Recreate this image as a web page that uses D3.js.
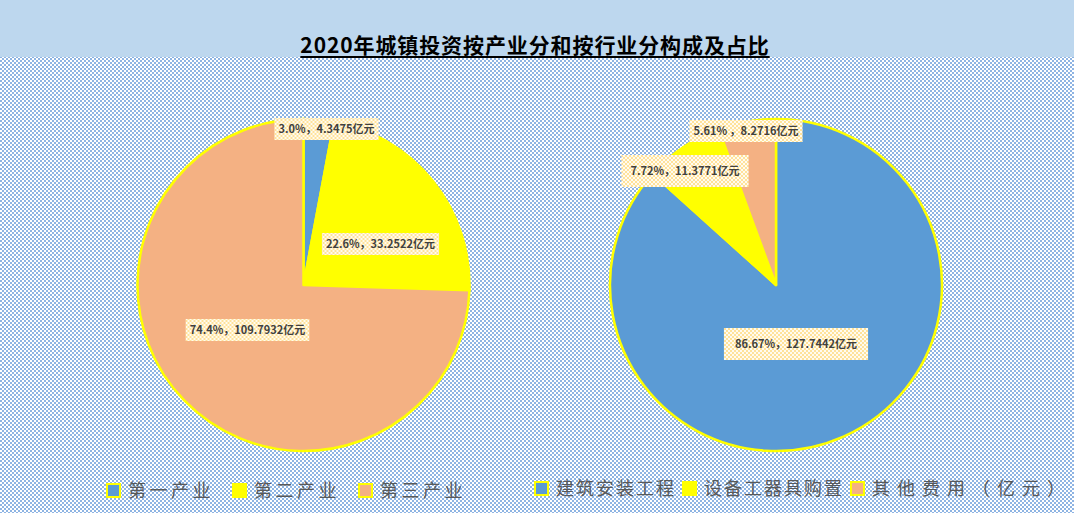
<!DOCTYPE html>
<html>
<head>
<meta charset="utf-8">
<script src="https://cdn.jsdelivr.net/npm/d3@7"></script>
<style>
  body { margin: 0; background: #fff; }
  svg { display: block; }
</style>
</head>
<body>
<svg id="chart"></svg>
<script>
// data
const title = "2020年城镇投资按产业分和按行业分构成及占比";

const industryNames = ["第一产业", "第二产业", "第三产业"];
const industryValues = [4.3475, 33.2522, 109.7932];
const industryPct = ["3.0%", "22.6%", "74.4%"];

const sectorNames = ["建筑安装工程", "设备工器具购置", "其他费用（亿元）"];
const sectorValues = [127.7442, 11.3771, 8.2716];
const sectorPct = ["86.67%", "7.72%", "5.61%"];

const colors = ["#5b9bd5", "#ffff00", "#f4b183"];

// label box placement (offset from pie centre) and padding, by hand like excel "best fit"
const industryLabelPos = [[23, -156, 4, 2], [77, -41, 4, 2], [-56, 45, 4, 2]];
const sectorLabelPos = [[20, 59, 11, 7], [-91, -114, 9, 7], [-30, -154, 4, 2]];

const width = 1074, height = 513;
const radius = 166;

const svg = d3.select("#chart")
    .attr("width", width)
    .attr("height", height)
    .attr("viewBox", [0, 0, width, height]);

const defs = svg.append("defs");
// chequer background like the excel fill pattern
const bgPat = defs.append("pattern")
    .attr("id", "bgchk")
    .attr("width", 4).attr("height", 4)
    .attr("patternUnits", "userSpaceOnUse");
bgPat.append("rect").attr("width", 4).attr("height", 4).attr("fill", "#ffffff");
bgPat.append("rect").attr("width", 2).attr("height", 2).attr("fill", "#8eb4e3");
bgPat.append("rect").attr("x", 2).attr("y", 2).attr("width", 2).attr("height", 2).attr("fill", "#8eb4e3");

const lblPat = defs.append("pattern")
    .attr("id", "lblchk")
    .attr("width", 4).attr("height", 4)
    .attr("patternUnits", "userSpaceOnUse");
lblPat.append("rect").attr("width", 4).attr("height", 4).attr("fill", "#fffbf0");
lblPat.append("rect").attr("width", 2).attr("height", 2).attr("fill", "#ffe29a");
lblPat.append("rect").attr("x", 2).attr("y", 2).attr("width", 2).attr("height", 2).attr("fill", "#ffe29a");

svg.append("rect")
    .attr("width", width).attr("height", height)
    .attr("fill", "url(#bgchk)");

svg.append("rect")
    .attr("width", width).attr("height", 57)
    .attr("fill", "#bdd7ee");

const titleText = svg.append("text")
    .attr("x", 535)
    .attr("y", 53)
    .attr("text-anchor", "middle")
    .attr("font-family", "'Noto Sans CJK SC', sans-serif")
    .attr("font-weight", "bold")
    .attr("font-size", 21)
    .attr("letter-spacing", 0.9)
    .attr("fill", "#000")
    .text(title);
const tb = titleText.node().getBBox();
svg.append("rect")
    .attr("x", tb.x).attr("y", 56)
    .attr("width", tb.width).attr("height", 2)
    .attr("fill", "#000");

const pie = d3.pie().sort(null).value(d => d);
const arc = d3.arc().innerRadius(0).outerRadius(radius);
const color = d3.scaleOrdinal([0, 1, 2], colors);

function drawPie(cx, cy, values, pct, labelPos) {
  const g = svg.append("g").attr("transform", `translate(${cx},${cy})`);
  const arcs = pie(values);

  g.selectAll("path")
    .data(arcs)
    .join("path")
      .attr("d", arc)
      .attr("fill", (d, i) => color(i))
      .attr("stroke", "#ffff00")
      .attr("stroke-width", 2.5)
      .attr("stroke-linejoin", "round");

  const lab = g.selectAll("g.lab")
    .data(arcs)
    .join("g")
      .attr("class", "lab")
      .attr("transform", (d, i) => `translate(${labelPos[i][0]},${labelPos[i][1]})`);

  lab.append("rect").attr("fill", "url(#lblchk)");
  const txt = lab.append("text")
      .attr("text-anchor", "middle")
      .attr("dy", "0.35em")
      .attr("font-family", "'Noto Sans CJK SC', sans-serif")
      .attr("font-weight", "bold")
      .attr("font-size", 11)
      .attr("fill", "#404040")
      .text((d, i) => pct[i] + (pct[i] === "5.61%" ? " ，" : "，") + values[i] + "亿元");

  txt.each(function(d, i) {
    const b = this.getBBox();
    const px = labelPos[i][2], py = labelPos[i][3];
    d3.select(this.previousSibling)
        .attr("x", -b.width / 2 - px)
        .attr("y", -9 - py)
        .attr("width", b.width + 2 * px)
        .attr("height", 18 + 2 * py);
  });
}

drawPie(303.5, 285, industryValues, industryPct, industryLabelPos);
drawPie(776, 285, sectorValues, sectorPct, sectorLabelPos);

function drawLegend(x0, y, names, gaps, spacing) {
  const g = svg.append("g");
  let x = x0;
  names.forEach((name, i) => {
    g.append("rect")
        .attr("x", x + 1).attr("y", y - 7)
        .attr("width", 13).attr("height", 13)
        .attr("fill", color(i))
        .attr("stroke", "#ffff00")
        .attr("stroke-width", 2);
    const t = g.append("text")
        .attr("x", x + 22)
        .attr("y", y)
        .attr("dy", "0.35em")
        .attr("font-family", "'Noto Sans CJK SC', sans-serif")
        .attr("font-size", 18)
        .attr("letter-spacing", spacing[i])
        .attr("fill", "#595959")
        .text(name);
    x = x + 22 + t.node().getComputedTextLength() + gaps;
  });
}

drawLegend(106, 491, industryNames, 18, [3.5, 3.5, 3.5]);
drawLegend(534, 489, sectorNames, 6, [2, 2, 7]);
</script>
</body>
</html>
